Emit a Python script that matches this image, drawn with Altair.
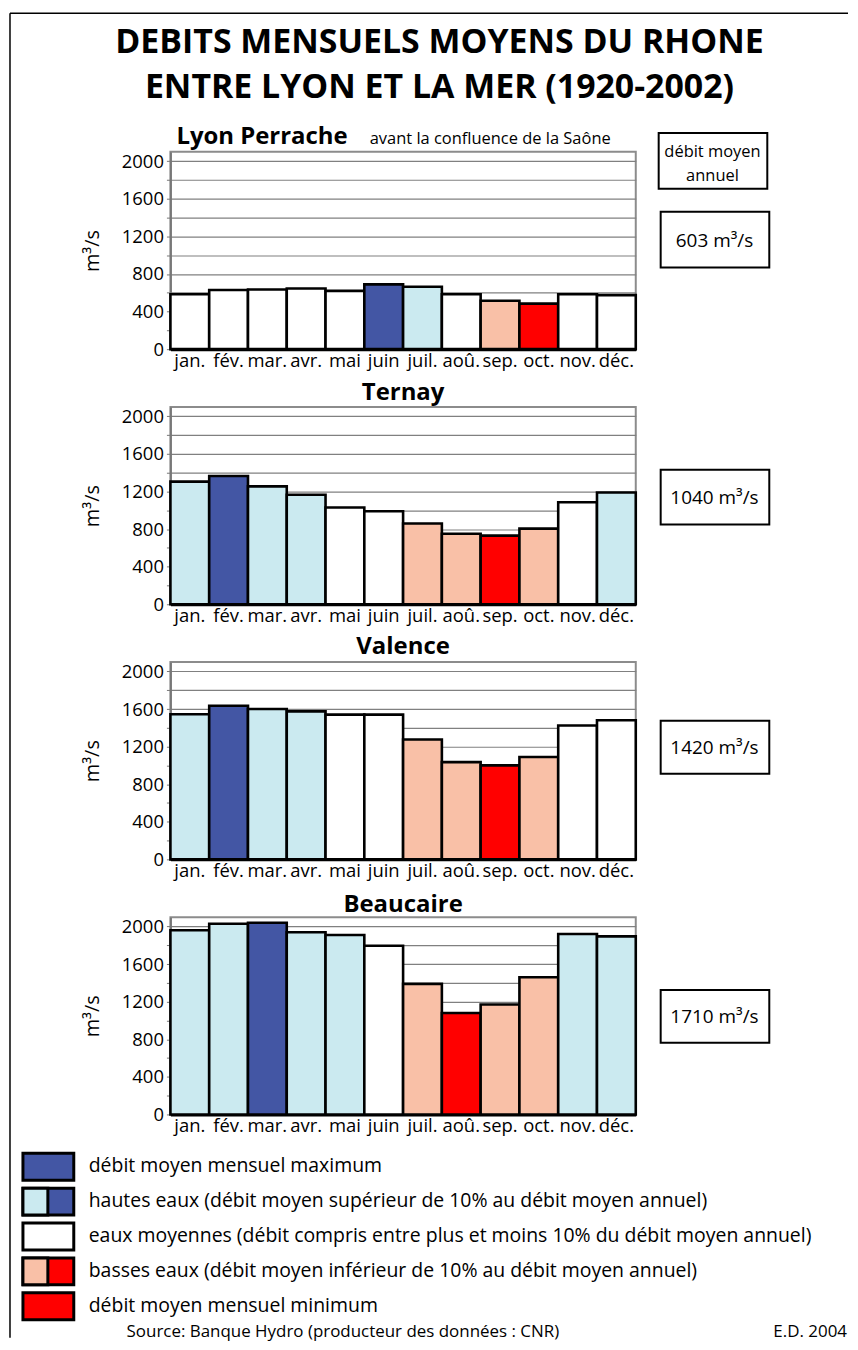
import altair as alt
import pandas as pd

FONT = "Open Sans"

months = ["jan.", "fév.", "mar.", "avr.", "mai", "juin", "juil.", "aoû.", "sep.", "oct.", "nov.", "déc."]

stations = ["Lyon Perrache", "Ternay", "Valence", "Beaucaire"]
subtitle_lyon = "avant la confluence de la Saône"

lyon_values = [585, 630, 635, 645, 620, 690, 665, 585, 515, 485, 585, 575]
ternay_values = [1305, 1365, 1255, 1165, 1030, 990, 860, 750, 730, 805, 1085, 1190]
valence_values = [1545, 1635, 1600, 1575, 1540, 1540, 1275, 1035, 1000, 1090, 1425, 1480]
beaucaire_values = [1960, 2030, 2040, 1940, 1910, 1795, 1390, 1080, 1170, 1460, 1920, 1895]

lyon_classes = ["moy", "moy", "moy", "moy", "moy", "max", "haut", "moy", "bas", "min", "moy", "moy"]
ternay_classes = ["haut", "max", "haut", "haut", "moy", "moy", "bas", "bas", "min", "bas", "moy", "haut"]
valence_classes = ["haut", "max", "haut", "haut", "moy", "moy", "bas", "bas", "min", "bas", "moy", "moy"]
beaucaire_classes = ["haut", "haut", "max", "haut", "haut", "moy", "bas", "min", "bas", "bas", "haut", "haut"]

annual_means = ["603 m³/s", "1040 m³/s", "1420 m³/s", "1710 m³/s"]

class_domain = ["max", "haut", "moy", "bas", "min"]
class_colors = ["#4356A4", "#CBEAF0", "#FFFFFF", "#F9C0A7", "#FF0000"]

legend_labels = [
    "débit moyen mensuel maximum",
    "hautes eaux (débit moyen supérieur de 10% au débit moyen annuel)",
    "eaux moyennes (débit compris entre plus et moins 10% du débit moyen annuel)",
    "basses eaux (débit moyen inférieur de 10% au débit moyen annuel)",
    "débit moyen mensuel minimum",
]
legend_left = ["#4356A4", "#CBEAF0", "#FFFFFF", "#F9C0A7", "#FF0000"]
legend_right = ["#4356A4", "#4356A4", "#FFFFFF", "#FF0000", "#FF0000"]

title_lines = ["DEBITS MENSUELS MOYENS DU RHONE", "ENTRE LYON ET LA MER (1920-2002)"]
annual_header = ["débit moyen", "annuel"]
source_text = "Source: Banque Hydro (producteur des données : CNR)"
credit_text = "E.D. 2004"

W, H = 467, 198
one = pd.DataFrame({"k": [0]})


def label(txt, x, y, size, weight="normal", align="center", baseline="alphabetic"):
    return alt.Chart(one).mark_text(
        text=txt, fontSize=size, fontWeight=weight, align=align,
        baseline=baseline, font=FONT, color="black"
    ).encode(x=alt.value(x), y=alt.value(y))


def box(x1, x2, y1, y2, fill="white", sw=2):
    return alt.Chart(one).mark_rect(fill=fill, stroke="black", strokeWidth=sw).encode(
        x=alt.value(x1), x2=alt.value(x2), y=alt.value(y1), y2=alt.value(y2)
    )


def bars(values, classes):
    df = pd.DataFrame({"mois": months, "debit": values, "classe": classes})
    return alt.Chart(df).mark_bar(stroke="black", strokeWidth=2.6).encode(
        x=alt.X(
            "mois:N", sort=months,
            scale=alt.Scale(paddingInner=0, paddingOuter=0),
            axis=alt.Axis(
                title=None, labelAngle=0, ticks=False, domainColor="black",
                domainWidth=3, labelFontSize=18.5, labelPadding=2,
                labelColor="black",
            ),
        ),
        y=alt.Y(
            "debit:Q",
            scale=alt.Scale(domain=[0, 2100], nice=False),
            axis=alt.Axis(
                values=list(range(0, 2001, 200)),
                labelExpr="datum.value % 400 === 0 ? datum.label : ''",
                format="d", title="m³/s", titleFontSize=20, titleFontWeight="normal",
                titleColor="black", titlePadding=19, labelFontSize=18.5,
                labelColor="black", labelPadding=3, tickSize=4, tickColor="#777",
                domainColor="#777", domainWidth=2, gridColor="#808080", gridWidth=1.2,
            ),
        ),
        color=alt.Color("classe:N", scale=alt.Scale(domain=class_domain, range=class_colors), legend=None),
    )


def mean_box(txt, y1, y2):
    return [box(492, 601, y1, y2), label(txt, 546, (y1 + y2) / 2 + 7, 19)]


# Panel 1 : Lyon Perrache (with page title, frame lines and header box)
p1_layers = [
    alt.Chart(one).mark_rule(stroke="black", strokeWidth=1.5).encode(
        x=alt.value(-161), y=alt.value(-139), y2=alt.value(1190)),
    alt.Chart(one).mark_rule(stroke="black", strokeWidth=1.5).encode(
        x=alt.value(-161), x2=alt.value(680), y=alt.value(-139)),
    label(title_lines[0], 270, -99, 34, "bold"),
    label(title_lines[1], 270, -54, 34, "bold"),
    label(stations[0], 6, -8, 24, "bold", align="left"),
    label(subtitle_lyon, 200, -8, 16.5, align="left"),
    box(490, 599, -19, 37),
    label(annual_header[0], 544, 5, 16.5),
    label(annual_header[1], 544, 29, 16.5),
] + mean_box(annual_means[0], 60, 116)
p1 = alt.layer(bars(lyon_values, lyon_classes), *p1_layers).properties(width=W, height=H)

p2_layers = [label(stations[1], W / 2, -7, 24, "bold")] + mean_box(annual_means[1], 63, 118)
p2 = alt.layer(bars(ternay_values, ternay_classes), *p2_layers).properties(width=W, height=H)

p3_layers = [label(stations[2], W / 2, -8, 24, "bold")] + mean_box(annual_means[2], 59, 112)
p3 = alt.layer(bars(valence_values, valence_classes), *p3_layers).properties(width=W, height=H)

p4_layers = [label(stations[3], W / 2, -5, 24, "bold")] + mean_box(annual_means[3], 73, 126)
swatch_top = [237, 272, 307, 342, 377]
for i, txt in enumerate(legend_labels):
    y1 = swatch_top[i]
    y2 = y1 + 27
    p4_layers.append(box(-148, -97, y1, y2, fill=legend_right[i], sw=3))
    if legend_left[i] != legend_right[i]:
        p4_layers.append(box(-148, -123, y1, y2, fill=legend_left[i], sw=3))
    p4_layers.append(label(txt, -82, y1 + 13, 19.5, baseline="middle", align="left"))
p4_layers.append(label(source_text, -44, 421, 17, align="left"))
p4_layers.append(label(credit_text, 679, 421, 17, align="right"))
p4 = alt.layer(bars(beaucaire_values, beaucaire_classes), *p4_layers).properties(width=W, height=H)

chart = alt.vconcat(p1, p2, p3, p4, spacing=58, bounds="flush").properties(
    padding={"left": 0, "top": 1, "right": 0, "bottom": 0}
).configure(font=FONT).configure_view(stroke="#8c8c8c", strokeWidth=2)

chart.save("out.html", embed_options={"renderer": "svg", "actions": False})
